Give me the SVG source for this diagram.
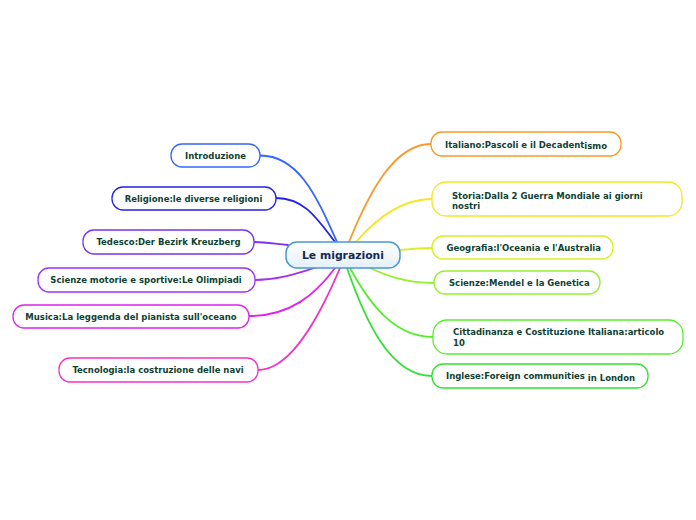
<svg xmlns="http://www.w3.org/2000/svg" width="696" height="520" viewBox="0 0 696 520">
<defs>
<linearGradient id="cg" x1="0" y1="0" x2="0" y2="1">
<stop offset="0" stop-color="#ffffff"/>
<stop offset="1" stop-color="#e3f0fa"/>
</linearGradient>
<style>
.n{fill:#ffffff;stroke-width:1.3}
.t{font-family:"DejaVu Sans",Verdana,sans-serif;font-weight:bold;font-size:8.5px;fill:#0f3f33}
.m{text-anchor:middle}
.c{fill:none;stroke-width:1.8;stroke-linecap:round}
</style>
</defs>
<rect width="696" height="520" fill="#ffffff"/>
<g id="connectors">
<path class="c" stroke="#3366ff" d="M260,155.5 C300,155.5 318,200 337,242"/>
<path class="c" stroke="#2222e6" d="M276,198 C305,198 318,220 335,242"/>
<path class="c" stroke="#7a33f0" d="M254,242 C268,242 275,244 288,245"/>
<path class="c" stroke="#a033ee" d="M255,280 C280,280 300,272 318,267"/>
<path class="c" stroke="#e022ee" d="M249,316 C290,316 315,295 335,268"/>
<path class="c" stroke="#f033c8" d="M258,370 C290,370 318,320 340,268"/>
<path class="c" stroke="#f89a2a" d="M431,144 C395,144 370,190 349,242"/>
<path class="c" stroke="#f4e622" d="M432,199 C400,199 375,220 356,242"/>
<path class="c" stroke="#d6f022" d="M432,248 C420,248 410,249 400,250"/>
<path class="c" stroke="#96ef2e" d="M434,283 C405,283 385,275 370,268"/>
<path class="c" stroke="#55ee2a" d="M433,337 C395,337 370,305 350,268"/>
<path class="c" stroke="#33e033" d="M432,376 C390,376 365,320 347,268"/>
</g>
<g id="center">
<rect x="286" y="242" width="114" height="26" rx="11" fill="url(#cg)" stroke="#4a98d0" stroke-width="1.5"/>
<text x="343" y="258.5" class="m" font-family="DejaVu Sans,Verdana,sans-serif" font-weight="bold" font-size="10.8" fill="#142a55">Le migrazioni</text>
</g>
<g id="introduzione">
<rect class="n" x="171" y="144" width="89" height="23" rx="11" stroke="#3366ff"/>
<text class="t m" x="215.5" y="159">Introduzione</text>
</g>
<g id="religione">
<rect class="n" x="112" y="187" width="164" height="23" rx="11" stroke="#2222e6"/>
<text class="t m" x="193.5" y="202">Religione:le diverse religioni</text>
</g>
<g id="tedesco">
<rect class="n" x="83" y="230" width="171" height="24" rx="11" stroke="#7a33f0"/>
<text class="t m" x="168.5" y="245">Tedesco:Der Bezirk Kreuzberg</text>
</g>
<g id="scienze-motorie">
<rect class="n" x="38" y="268" width="217" height="24" rx="11" stroke="#a033ee"/>
<text class="t m" x="146" y="283">Scienze motorie e sportive:Le Olimpiadi</text>
</g>
<g id="musica">
<rect class="n" x="13" y="305" width="236" height="23" rx="11" stroke="#e022ee"/>
<text class="t m" x="131" y="320">Musica:La leggenda del pianista sull'oceano</text>
</g>
<g id="tecnologia">
<rect class="n" x="59" y="358" width="199" height="24" rx="11" stroke="#f033c8"/>
<text class="t m" x="158" y="373">Tecnologia:la costruzione delle navi</text>
</g>
<g id="italiano">
<rect class="n" x="431" y="132" width="190" height="24" rx="11" stroke="#f89a2a"/>
<text class="t" x="445" y="147.5">Italiano:Pascoli e il Decadent<tspan dy="1.5">ismo</tspan></text>
</g>
<g id="storia">
<rect class="n" x="432" y="182" width="250" height="34" rx="14" stroke="#f4e622"/>
<text class="t" x="452" y="199">Storia:Dalla 2 Guerra Mondiale ai giorni</text>
<text class="t" x="452" y="208.5">nostri</text>
</g>
<g id="geografia">
<rect class="n" x="432" y="236" width="181" height="23" rx="11" stroke="#d6f022"/>
<text class="t" x="446.5" y="251">Geografia:l'Oceania e l'Australia</text>
</g>
<g id="scienze-mendel">
<rect class="n" x="434" y="271" width="166" height="23" rx="11" stroke="#96ef2e"/>
<text class="t" x="449" y="286">Scienze:Mendel e la Genetica</text>
</g>
<g id="cittadinanza">
<rect class="n" x="433" y="320" width="250" height="34" rx="14" stroke="#55ee2a"/>
<text class="t" x="453" y="335">Cittadinanza e Costituzione Italiana:articolo</text>
<text class="t" x="453" y="346">10</text>
</g>
<g id="inglese">
<rect class="n" x="432" y="364" width="216" height="24" rx="11" stroke="#33e033"/>
<text class="t" x="446" y="379">Inglese:Foreign communities<tspan dy="1.5"> in London</tspan></text>
</g>
</svg>
